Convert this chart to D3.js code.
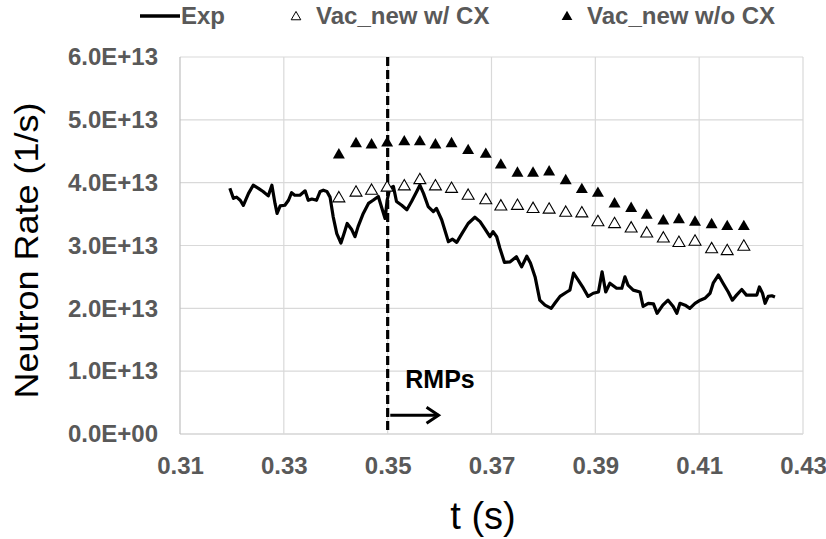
<!DOCTYPE html>
<html>
<head>
<meta charset="utf-8">
<script src="https://cdn.jsdelivr.net/npm/d3@7"></script>
<style>
  body { margin: 0; background: #fff; }
  svg { display: block; font-family: "Liberation Sans", Arial, sans-serif; }
</style>
</head>
<body>
<div id="chart"></div>
<script>
// neutron rate, in units of 1e13 1/s
const UNIT = 1e13;

const expT = [0.3196,0.3203,0.3209,0.3216,0.3222,0.3232,0.3241,0.3251,0.3260,0.3270,
  0.3277,0.3283,0.3287,0.3293,0.3302,0.3309,0.3315,0.3321,0.3331,0.3341,
  0.3347,0.3354,0.3363,0.3370,0.3376,0.3383,0.3389,0.3395,0.3402,0.3410,
  0.3416,0.3422,0.3431,0.3437,0.3443,0.3453,0.3463,0.3472,0.3482,0.3492,
  0.3495,0.3499,0.3504,0.3511,0.3517,0.3527,0.3537,0.3546,0.3556,0.3562,
  0.3569,0.3578,0.3588,0.3594,0.3604,0.3617,0.3625,0.3633,0.3643,0.3655,
  0.3668,0.3678,0.3687,0.3697,0.3703,0.3710,0.3716,0.3725,0.3736,0.3748,
  0.3758,0.3768,0.3775,0.3784,0.3793,0.3803,0.3815,0.3822,0.3832,0.3845,
  0.3851,0.3858,0.3867,0.3877,0.3886,0.3896,0.3906,0.3913,0.3920,0.3928,
  0.3941,0.3951,0.3957,0.3963,0.3973,0.3986,0.3992,0.4002,0.4012,0.4019,
  0.4030,0.4040,0.4050,0.4057,0.4063,0.4073,0.4082,0.4092,0.4102,0.4111,
  0.4121,0.4127,0.4137,0.4146,0.4156,0.4164,0.4172,0.4182,0.4191,0.4201,
  0.4211,0.4216,0.4222,0.4227,0.4233,0.4240,0.4246];
const expRate = [3.91,3.75,3.77,3.72,3.64,3.83,3.96,3.91,3.86,3.79,
  3.96,3.67,3.51,3.63,3.64,3.72,3.84,3.80,3.80,3.87,
  3.72,3.74,3.72,3.86,3.88,3.86,3.77,3.46,3.19,3.04,
  3.19,3.35,3.25,3.14,3.30,3.51,3.67,3.72,3.78,3.51,
  3.43,3.72,3.91,3.94,3.70,3.64,3.57,3.70,3.86,3.96,
  3.83,3.62,3.54,3.59,3.41,3.06,3.10,3.05,3.19,3.35,
  3.45,3.38,3.27,3.14,3.22,3.14,2.96,2.73,2.74,2.82,
  2.66,2.83,2.72,2.50,2.13,2.05,2.00,2.08,2.19,2.26,
  2.29,2.56,2.45,2.32,2.19,2.24,2.26,2.58,2.26,2.40,
  2.32,2.32,2.50,2.37,2.29,2.26,2.03,2.08,2.07,1.92,
  2.05,2.13,2.03,1.92,2.08,2.05,2.00,2.08,2.13,2.16,
  2.24,2.40,2.53,2.40,2.26,2.13,2.21,2.30,2.21,2.21,
  2.21,2.34,2.24,2.08,2.19,2.20,2.18];

// simulation times (shared by both marker series)
const simT = [0.3406,0.3439,0.3469,0.3499,0.3532,0.3562,0.3592,0.3623,0.3655,0.3689,
  0.3718,0.3750,0.3780,0.3811,0.3843,0.3874,0.3905,0.3937,0.3969,0.3999,
  0.4031,0.4061,0.4092,0.4124,0.4154,0.4186];
const withCxRate = [3.75,3.84,3.87,3.92,3.94,4.04,3.94,3.90,3.79,3.72,
  3.62,3.63,3.58,3.57,3.52,3.51,3.37,3.34,3.27,3.19,
  3.11,3.04,3.06,2.94,2.91,2.98];
const noCxRate = [4.44,4.62,4.60,4.63,4.65,4.65,4.60,4.62,4.51,4.45,
  4.28,4.15,4.15,4.17,4.03,3.89,3.83,3.66,3.59,3.48,
  3.39,3.41,3.37,3.33,3.30,3.30];

const xTicks = [0.31, 0.33, 0.35, 0.37, 0.39, 0.41, 0.43];
const yTicks = [0, 1, 2, 3, 4, 5, 6];
const rmpTime = 0.35;

const legendItems = [
  { label: "Exp", kind: "line" },
  { label: "Vac_new w/ CX", kind: "open" },
  { label: "Vac_new w/o CX", kind: "filled" }
];

const W = 826, H = 539;
const margin = { top: 57, right: 23, bottom: 105, left: 180 };

const svg = d3.select("#chart").append("svg")
  .attr("width", W)
  .attr("height", H);

const x = d3.scaleLinear()
  .domain([0.31, 0.43])
  .range([margin.left, W - margin.right]);

const y = d3.scaleLinear()
  .domain([0, 6])
  .range([H - margin.bottom, margin.top]);

const yFmt = v => v === 0 ? "0.0E+00" : (v).toFixed(1) + "E+13";

// grid
svg.append("g")
  .selectAll("line.hg")
  .data(yTicks)
  .join("line")
  .attr("x1", margin.left).attr("x2", W - margin.right)
  .attr("y1", d => y(d)).attr("y2", d => y(d))
  .attr("stroke", d => d === 0 ? "#bfbfbf" : "#d9d9d9")
  .attr("stroke-width", 1.2);

svg.append("g")
  .selectAll("line.vg")
  .data(xTicks)
  .join("line")
  .attr("x1", d => x(d)).attr("x2", d => x(d))
  .attr("y1", margin.top).attr("y2", H - margin.bottom)
  .attr("stroke", (d, i) => i === 0 ? "#bfbfbf" : "#d9d9d9")
  .attr("stroke-width", 1.2);

// axes (labels only, lines are drawn by the grid)
const xAxis = g => g
  .attr("transform", `translate(0,${H - margin.bottom})`)
  .call(d3.axisBottom(x).tickValues(xTicks).tickFormat(d3.format(".2f")).tickSize(0).tickPadding(23))
  .call(g => g.select(".domain").remove());

const yAxis = g => g
  .attr("transform", `translate(${margin.left},0)`)
  .call(d3.axisLeft(y).tickValues(yTicks).tickFormat(yFmt).tickSize(0).tickPadding(22))
  .call(g => g.select(".domain").remove());

svg.append("g").call(xAxis);
svg.append("g").call(yAxis);

svg.selectAll(".tick text")
  .attr("fill", "#595959")
  .attr("font-size", 24)
  .attr("font-weight", "bold")
  .attr("font-family", "'Liberation Sans', Arial, sans-serif");

// RMP onset marker
svg.append("line")
  .attr("x1", x(rmpTime)).attr("x2", x(rmpTime))
  .attr("y1", margin.top).attr("y2", H - margin.bottom)
  .attr("stroke", "#000")
  .attr("stroke-width", 3.2)
  .attr("stroke-dasharray", "9,4");

const line = d3.line()
  .x((d, i) => x(expT[i]))
  .y(d => y(d));

svg.append("path")
  .datum(expRate)
  .attr("fill", "none")
  .attr("stroke", "#000")
  .attr("stroke-width", 3.2)
  .attr("stroke-linejoin", "round")
  .attr("d", line);

const tri = d3.symbol().type(d3.symbolTriangle).size(62);

svg.append("g")
  .selectAll("path")
  .data(withCxRate)
  .join("path")
  .attr("d", tri)
  .attr("transform", (d, i) => `translate(${x(simT[i])},${y(d)})`)
  .attr("fill", "#fff")
  .attr("stroke", "#000")
  .attr("stroke-width", 1.1);

svg.append("g")
  .selectAll("path")
  .data(noCxRate)
  .join("path")
  .attr("d", tri)
  .attr("transform", (d, i) => `translate(${x(simT[i])},${y(d)})`)
  .attr("fill", "#000");

// RMPs annotation
svg.append("text")
  .attr("x", x(0.3534))
  .attr("y", y(0.73))
  .attr("font-size", 25)
  .attr("font-weight", "bold")
  .attr("fill", "#000")
  .text("RMPs");

const arrowY = y(0.3);
const arrowEnd = x(0.3598);
svg.append("line")
  .attr("x1", x(0.3505)).attr("x2", arrowEnd)
  .attr("y1", arrowY).attr("y2", arrowY)
  .attr("stroke", "#000").attr("stroke-width", 3);
svg.append("path")
  .attr("d", `M${arrowEnd - 12},${arrowY - 8}L${arrowEnd},${arrowY}L${arrowEnd - 12},${arrowY + 8}`)
  .attr("fill", "none")
  .attr("stroke", "#000").attr("stroke-width", 3);

// axis titles
svg.append("text")
  .attr("transform", `translate(38,${(margin.top + H - margin.bottom) / 2 + 5}) scale(0.92,1) rotate(-90)`)
  .attr("text-anchor", "middle")
  .attr("font-size", 36)
  .attr("fill", "#000")
  .text("Neutron Rate (1/s)");

svg.append("text")
  .attr("x", 483)
  .attr("y", 529)
  .attr("text-anchor", "middle")
  .attr("font-size", 38)
  .attr("fill", "#000")
  .text("t (s)");

// legend
const legendX = [140, 290, 561];
const lg = svg.append("g");
legendItems.forEach((item, i) => {
  const g = lg.append("g").attr("transform", `translate(${legendX[i]},16)`);
  if (item.kind === "line") {
    g.append("line").attr("x1", 0).attr("x2", 40).attr("y1", 0).attr("y2", 0)
      .attr("stroke", "#000").attr("stroke-width", 3.5);
  } else {
    g.append("path")
      .attr("d", d3.symbol().type(d3.symbolTriangle).size(item.kind === "open" ? 40 : 50))
      .attr("transform", "translate(6,1)")
      .attr("fill", item.kind === "open" ? "#fff" : "#000")
      .attr("stroke", item.kind === "open" ? "#000" : "none")
      .attr("stroke-width", 1);
  }
  g.append("text")
    .attr("x", item.kind === "line" ? 41 : 26)
    .attr("y", 8)
    .attr("font-size", 24)
    .attr("font-weight", "bold")
    .attr("fill", "#595959")
    .text(item.label);
});
</script>
</body>
</html>
